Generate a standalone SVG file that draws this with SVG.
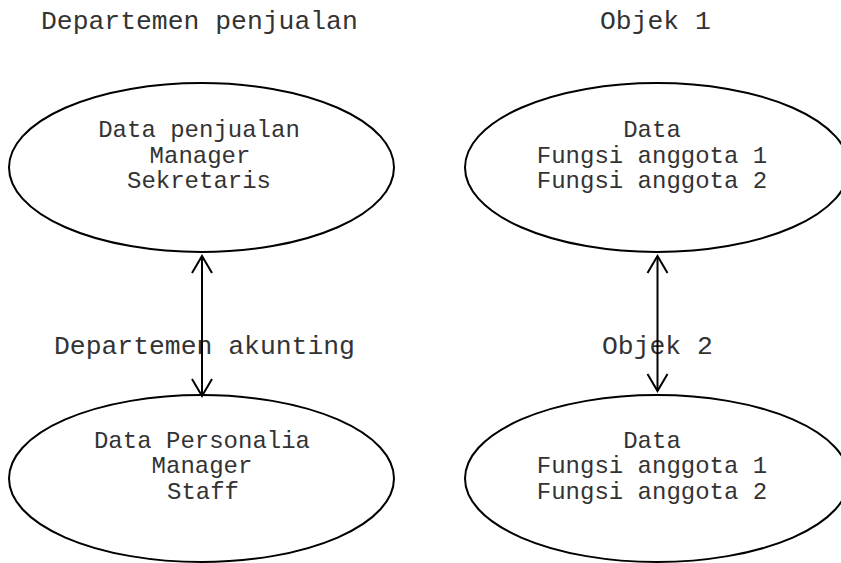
<svg xmlns="http://www.w3.org/2000/svg" width="841" height="563" viewBox="0 0 841 563">
<style>
  .node ellipse { fill: #ffffff; stroke: #000000; stroke-width: 2; }
  .label { font-family: "Liberation Mono", "Courier New", monospace; fill: #333333; }
  .title { font-size: 26.4px; }
  .inner { font-size: 24px; text-anchor: middle; }
  .conn line, .conn polyline { fill: none; stroke: #000000; stroke-width: 2; }
</style>
<rect width="841" height="563" fill="#ffffff"/>
<g id="titles">
  <text class="label title" x="41" y="29">Departemen penjualan</text>
  <text class="label title" x="600" y="29">Objek 1</text>
  <text class="label title" x="54" y="354">Departemen akunting</text>
  <text class="label title" x="602" y="354">Objek 2</text>
</g>
<g id="node-penjualan" class="node">
  <ellipse cx="201.5" cy="167.5" rx="192.5" ry="84.5"/>
  <text class="label inner" x="199" y="137">Data penjualan</text>
  <text class="label inner" x="200" y="163">Manager</text>
  <text class="label inner" x="199" y="188">Sekretaris</text>
</g>
<g id="node-objek1" class="node">
  <ellipse cx="657" cy="167.5" rx="192" ry="84.5"/>
  <text class="label inner" x="652" y="137">Data</text>
  <text class="label inner" x="652" y="163">Fungsi anggota 1</text>
  <text class="label inner" x="652" y="188">Fungsi anggota 2</text>
</g>
<g id="node-akunting" class="node">
  <ellipse cx="201.5" cy="478.5" rx="192.5" ry="83.5"/>
  <text class="label inner" x="202" y="448">Data Personalia</text>
  <text class="label inner" x="202" y="473">Manager</text>
  <text class="label inner" x="203" y="499">Staff</text>
</g>
<g id="node-objek2" class="node">
  <ellipse cx="657" cy="478.5" rx="192" ry="83.5"/>
  <text class="label inner" x="652" y="448">Data</text>
  <text class="label inner" x="652" y="473">Fungsi anggota 1</text>
  <text class="label inner" x="652" y="499">Fungsi anggota 2</text>
</g>
<g id="connectors" class="conn">
  <line x1="202" y1="256" x2="202" y2="396"/>
  <polyline points="192,273 202,256 212,273"/>
  <polyline points="192,379 202,396 212,379"/>
  <line x1="657.5" y1="256" x2="657.5" y2="391"/>
  <polyline points="647.5,273 657.5,256 667.5,273"/>
  <polyline points="647.5,374 657.5,391 667.5,374"/>
</g>
</svg>
